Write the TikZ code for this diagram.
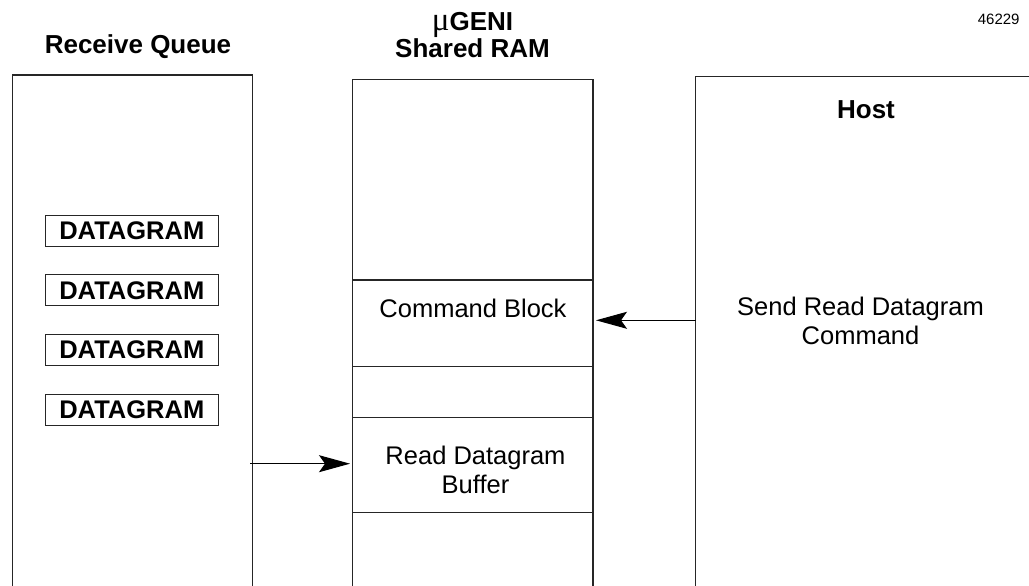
\documentclass[tikz,border=0pt]{standalone}
\usepackage{fontspec}
\setmainfont{Liberation Sans}
\newfontfamily\greekfont{Liberation Serif}
\usepackage{tikz}
\usetikzlibrary{arrows.meta,positioning}

\begin{document}
\begin{tikzpicture}[x=1pt, y=-1pt, node distance=59.6pt]
	\tikzstyle{frame}=[draw=black!85, line width=1.2pt]
	\tikzstyle{dgram}=[draw=black!85, line width=1pt, minimum width=173pt, minimum height=31pt, inner sep=0pt, font=\fontsize{25.5}{28}\selectfont\bfseries]
	\tikzstyle{headtext}=[font=\fontsize{26}{25}\selectfont\bfseries, align=center]
	\tikzstyle{celltext}=[font=\fontsize{25.5}{28.7}\selectfont, align=center]
	\tikzstyle{conn}=[->, >={Stealth[length=31pt, width=17pt, inset=6pt]}, line width=1pt]

	\useasboundingbox (0,0) rectangle (1029,586);

	% columns, open at the bottom
	\draw[frame] (12.7,586) |- (252.7,75) -- (252.7,586);
	\draw[frame] (352.7,586) |- (593,79.3) -- (593,586);
	\draw[frame] (695.7,586) |- (1029,76.7);

	% cells of the shared RAM
	\draw[frame] (352.7,280) -- (593,280);
	\draw[frame] (352.7,366.7) -- (593,366.7);
	\draw[frame] (352.7,417.7) -- (593,417.7);
	\draw[frame] (352.7,512.7) -- (593,512.7);

	\node[headtext, anchor=base] (rqhead) at (138,53.3) {Receive Queue};
	\node[headtext] (ramhead) at (472.5,35) {{\greekfont\mdseries\fontsize{33}{25}\selectfont μ}GENI\\Shared RAM};
	\node[headtext, anchor=base] (hosthead) at (866,118.3) {Host};
	\node[font=\fontsize{15}{15}\selectfont, anchor=base] (fignum) at (998.7,25) {46229};

	\node[dgram] (d1) at (131.8,230.7) {DATAGRAM};
	\node[dgram, below of=d1] (d2) {DATAGRAM};
	\node[dgram, below of=d2] (d3) {DATAGRAM};
	\node[dgram, below of=d3] (d4) {DATAGRAM};

	\node[celltext, anchor=base] (cmd) at (473,317.7) {Command Block};
	\node[celltext] (buf) at (475.5,469.7) {Read Datagram\\Buffer};
	\node[celltext] (send) at (860.5,320.6) {Send Read Datagram\\Command};

	\coordinate (host-out) at (695.7,320.3);
	\coordinate (cmd-in) at (596,320.3);
	\coordinate (rq-out) at (250,463.7);
	\coordinate (buf-in) at (350,463.7);

	\draw[conn] (host-out) -- (cmd-in);
	\draw[conn] (rq-out) -- (buf-in);
\end{tikzpicture}
\end{document}
